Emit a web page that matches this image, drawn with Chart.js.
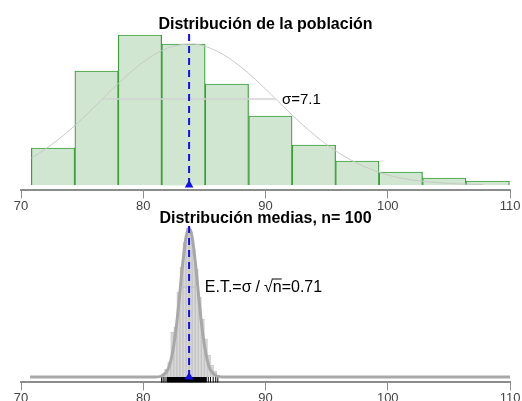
<!DOCTYPE html>
<html>
<head>
<meta charset="utf-8">
<script src="https://cdn.jsdelivr.net/npm/chart.js@4/dist/chart.umd.min.js"></script>
<style>
  body { margin: 0; background: #fff; }
  #wrap { position: relative; width: 522px; height: 401px; }
  canvas { position: absolute; left: 0; }
</style>
</head>
<body>
<div id="wrap">
  <canvas id="pob" width="522" height="214" style="top:0"></canvas>
  <canvas id="med" width="522" height="214" style="top:192px"></canvas>
</div>
<script>
// === Data ===
const ticksX = [70, 80, 90, 100, 110];

// population histogram (bin centres, width ~3.56)
const centrosPob = [72.62, 76.18, 79.73, 83.29, 86.84, 90.40, 93.96, 97.51, 101.07, 104.62, 108.18];
const frecPob = [37, 114, 150, 141, 101, 69, 40, 24, 13, 7, 4];
// normal curve
const curvaPobX = [70.84, 72, 74, 76, 78, 80, 82, 84, 86, 88, 90, 92, 94, 96, 98, 100, 102, 104, 106, 107.8];
const curvaPobY = [27, 36, 55, 78, 102, 123, 137, 141, 134, 118, 96, 72, 50, 32, 19, 10, 5, 2.4, 1, 0.5];
const mediaPob = 83.75;
const sigmaPob = 7.1;
const alturaSigma = 86;

// sample means histogram (bin centres, width 0.25)
const centrosMed = [81.625, 81.875, 82.125, 82.375, 82.625, 82.875, 83.125, 83.375, 83.625, 83.875,
                    84.125, 84.375, 84.625, 84.875, 85.125, 85.375, 85.625, 85.875, 86.125];
const frecMed = [3, 8, 15, 45, 50, 85, 110, 135, 149, 145, 128, 108, 80, 58, 38, 22, 12, 6, 2];
const curvaMedX = [70.74, 81.0, 81.5, 82.0, 82.25, 82.5, 82.75, 83.0, 83.25, 83.5, 83.75,
                   84.0, 84.25, 84.5, 84.75, 85.0, 85.25, 85.5, 86.0, 86.5, 110];
const curvaMedY = [0, 0, 1, 7, 16, 32, 55, 85, 116, 140, 149, 140, 116, 85, 55, 32, 16, 7, 1, 0, 0];
const mediaMed = 83.75;
const errorTipico = 0.71;
const alturaET = 90;
const rugSuelto = [81.5, 81.63, 81.78, 85.32, 85.5, 85.72, 85.93, 86.1];
const rugDenso = [81.9, 85.2];

const fuente = '"Liberation Sans", Arial, sans-serif';

function pares(xs, ys) {
  return xs.map((x, i) => ({ x, y: ys[i] }));
}

function ejeX() {
  return {
    type: 'linear', min: 70, max: 110, offset: false,
    afterBuildTicks: s => { s.ticks = ticksX.map(v => ({ value: v })); },
    grid: { offset: false, drawOnChartArea: false, drawTicks: true, tickLength: 8, color: '#8c8c8c', lineWidth: 1 },
    border: { display: true, color: '#8c8c8c', width: 2 },
    ticks: { padding: 0, color: '#444', font: { family: fuente, size: 13 }, maxRotation: 0, autoSkip: false }
  };
}

function titulo(texto, arriba) {
  return {
    display: true, text: texto, color: '#000',
    font: { family: fuente, size: 16, weight: 'bold', lineHeight: 1 },
    padding: { top: arriba, bottom: -2 }
  };
}

// === Annotations ===
const textoSigma = {
  id: 'textoSigma',
  afterDatasetsDraw(chart) {
    const { ctx, scales: { x, y } } = chart;
    ctx.save();
    ctx.font = '15px ' + fuente;
    ctx.fillStyle = '#000';
    ctx.textBaseline = 'middle';
    ctx.fillText('σ=' + sigmaPob, x.getPixelForValue(mediaPob + sigmaPob) + 6, y.getPixelForValue(alturaSigma) + 1);
    ctx.restore();
  }
};

const textoET = {
  id: 'textoET',
  afterDatasetsDraw(chart) {
    const { ctx, scales: { x, y } } = chart;
    let px = x.getPixelForValue(mediaMed + errorTipico) + 7;
    const py = y.getPixelForValue(alturaET) + 1;
    ctx.save();
    ctx.font = '16px ' + fuente;
    ctx.fillStyle = '#000';
    ctx.strokeStyle = '#000';
    ctx.textBaseline = 'middle';
    const dibujar = (t, hueco) => {
      ctx.fillText(t, px, py);
      const w = ctx.measureText(t).width;
      px += w + hueco;
      return w;
    };
    dibujar('E.T.=σ', 4);
    dibujar('/', 4);
    dibujar('√', 0);
    const inicioN = px;
    const wn = dibujar('n', 0);
    ctx.lineWidth = 1;
    ctx.beginPath();
    ctx.moveTo(inicioN - 1, py - 9);
    ctx.lineTo(inicioN + wn, py - 9);
    ctx.stroke();
    dibujar('=' + errorTipico, 0);
    ctx.restore();
  }
};

// === Top: population ===
new Chart(document.getElementById('pob'), {
  type: 'bar',
  data: {
    datasets: [
      {
        type: 'line', data: [{ x: mediaPob, y: 0 }, { x: mediaPob, y: 154 }],
        borderColor: '#1010ee', borderWidth: 2, borderDash: [7, 5],
        pointStyle: 'triangle', pointRadius: [3, 0], pointBackgroundColor: '#1010ee', pointBorderColor: '#1010ee'
      },
      {
        type: 'line', data: [{ x: mediaPob - sigmaPob, y: alturaSigma }, { x: mediaPob + sigmaPob, y: alturaSigma }],
        borderColor: '#d2d2d2', borderWidth: 1.5, pointRadius: 0
      },
      {
        type: 'line', data: pares(curvaPobX, curvaPobY),
        borderColor: '#c8c8c8', borderWidth: 1, pointRadius: 0, cubicInterpolationMode: 'monotone'
      },
      {
        data: pares(centrosPob, frecPob),
        backgroundColor: '#d0e6d0', borderColor: '#3a9f3a', borderWidth: 1.2,
        barPercentage: 1, categoryPercentage: 1
      }
    ]
  },
  options: {
    responsive: false, animation: false,
    layout: { padding: { left: 21, right: 12, top: 0, bottom: 0 } },
    scales: {
      x: ejeX(),
      y: { display: false, min: -5.4, max: 154 }
    },
    plugins: { legend: { display: false }, tooltip: { enabled: false }, title: titulo('Distribución de la población', 17) }
  },
  plugins: [textoSigma]
});

// === Bottom: sample means ===
new Chart(document.getElementById('med'), {
  type: 'bar',
  data: {
    datasets: [
      {
        type: 'line', data: [{ x: mediaMed, y: 0 }, { x: mediaMed, y: 152 }],
        borderColor: '#1010ee', borderWidth: 2, borderDash: [7, 5],
        pointStyle: 'triangle', pointRadius: [3, 0], pointBackgroundColor: '#1010ee', pointBorderColor: '#1010ee'
      },
      {
        type: 'line', data: [{ x: mediaMed - errorTipico, y: alturaET }, { x: mediaMed + errorTipico, y: alturaET }],
        borderColor: '#bcbcbc', borderWidth: 1, pointRadius: 0
      },
      {
        type: 'line', data: pares(curvaMedX, curvaMedY),
        borderColor: '#a8a8a8', borderWidth: 3, pointRadius: 0, cubicInterpolationMode: 'monotone'
      },
      {
        type: 'line', data: [{ x: rugDenso[0], y: -3 }, { x: rugDenso[1], y: -3 }],
        borderColor: '#000', borderWidth: 6, borderCapStyle: 'butt', pointRadius: 0
      },
      {
        type: 'scatter', data: rugSuelto.map(v => ({ x: v, y: -3 })),
        pointStyle: 'line', rotation: 90, pointRadius: 3, borderColor: '#000', borderWidth: 1
      },
      {
        data: pares(centrosMed, frecMed),
        backgroundColor: '#d8d8d8', borderColor: '#c4c4c4', borderWidth: 1,
        barPercentage: 1, categoryPercentage: 1
      }
    ]
  },
  options: {
    responsive: false, animation: false,
    layout: { padding: { left: 21, right: 12, top: 0, bottom: 0 } },
    scales: {
      x: ejeX(),
      y: { display: false, min: -5.4, max: 152 }
    },
    plugins: { legend: { display: false }, tooltip: { enabled: false }, title: titulo('Distribución medias, n= 100', 19) }
  },
  plugins: [textoET]
});
</script>
</body>
</html>
